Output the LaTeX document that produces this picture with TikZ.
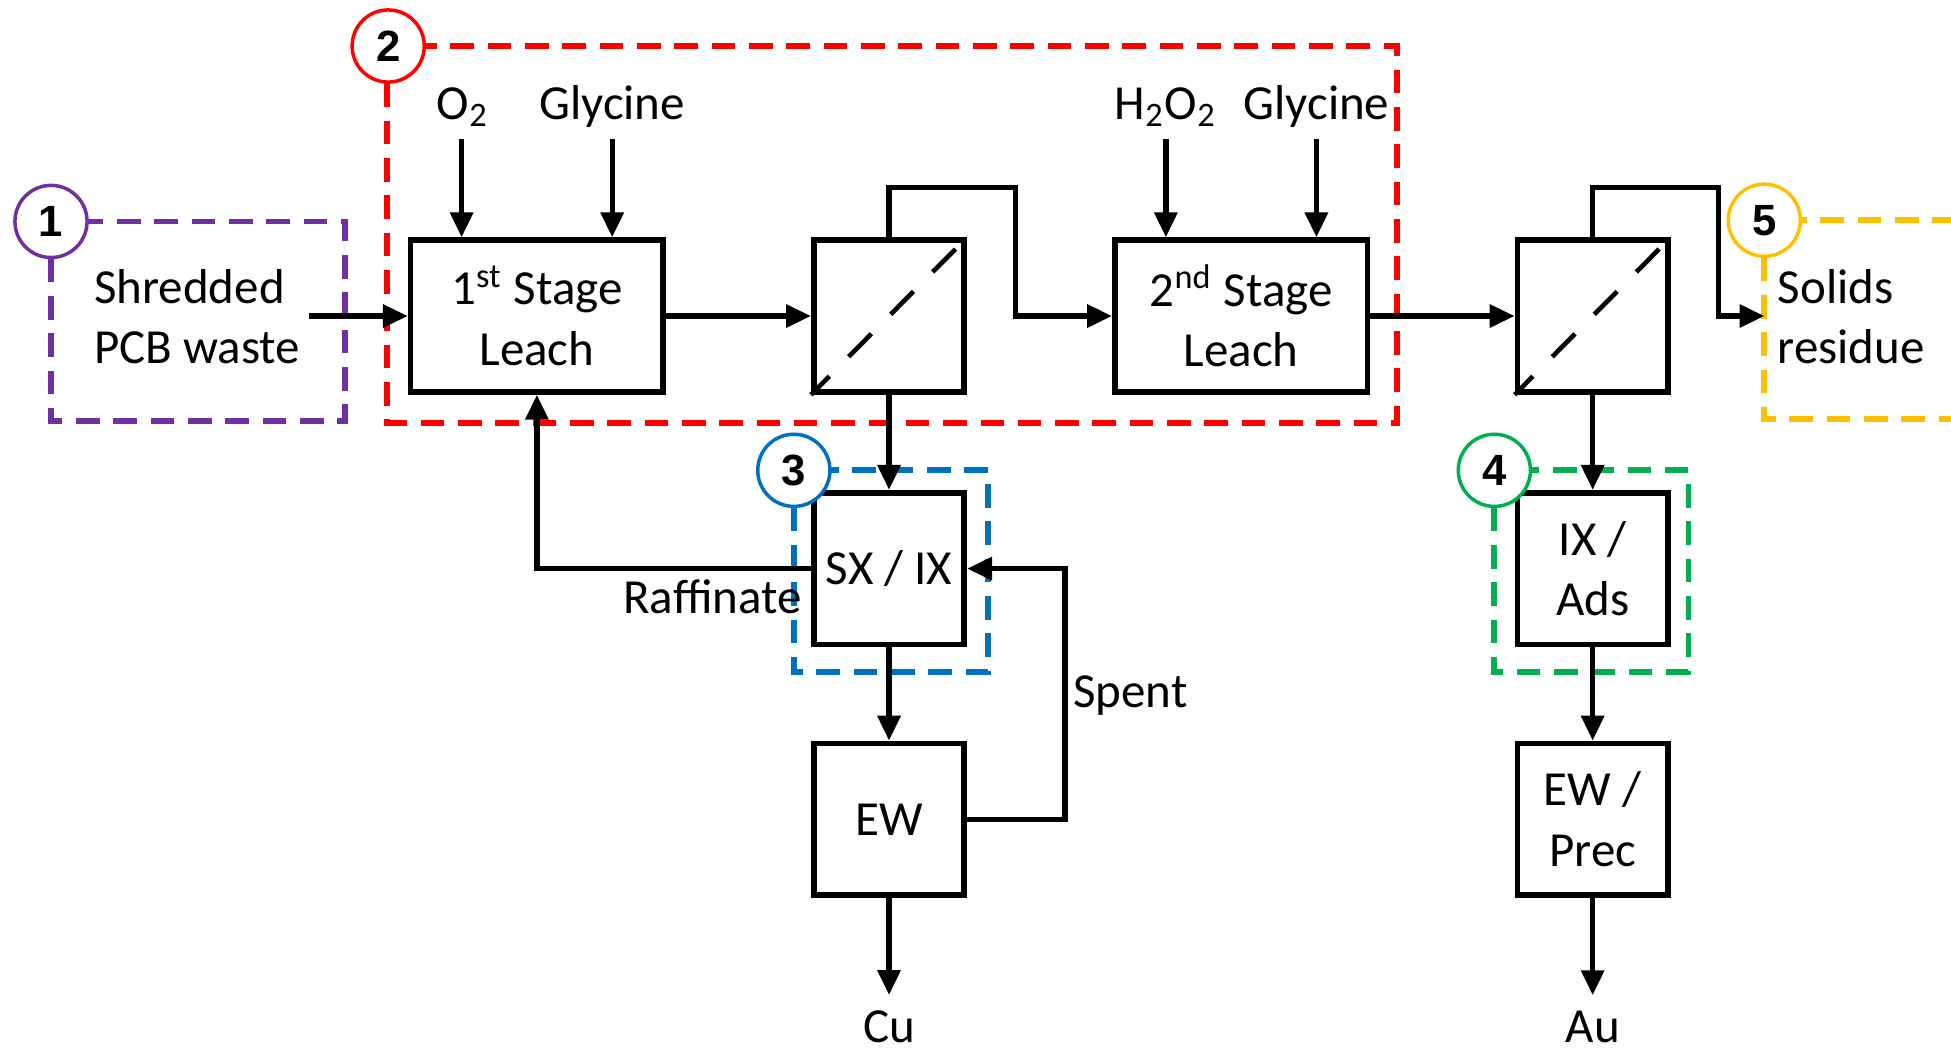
\documentclass[tikz,border=0pt]{standalone}
\usepackage{fontspec}
\setmainfont{Carlito}
\newfontfamily\numfont{Liberation Sans}
\usetikzlibrary{arrows.meta}
\definecolor{cpurple}{HTML}{7030A0}
\definecolor{cred}{HTML}{FF0000}
\definecolor{cblue}{HTML}{0070C0}
\definecolor{cgreen}{HTML}{00B050}
\definecolor{cyellow}{HTML}{FFC000}
\newcommand\lblfont{\fontsize{11.2}{13.9}\selectfont}
\begin{document}
\begin{tikzpicture}[x=1cm,y=-1cm,
  font=\lblfont,
  unitbox/.style={draw, line width=1.3pt, minimum width=#1, minimum height=1.22cm, inner sep=0pt, align=center},
  filterbox/.style={draw, line width=1.3pt, minimum width=1.21cm, minimum height=1.22cm, inner sep=0pt},
  arr/.style={line width=1.2pt, -{Triangle[length=0.2cm,width=0.18cm]}},
  diag/.style={line width=1.05pt, dash pattern=on 0.26cm off 0.22cm, dash phase=0.05cm},
  grp/.style={line width=1.35pt, dash pattern=on 0.19cm off 0.11cm},
  badge/.style={circle, fill=white, line width=0.8pt, minimum size=0.58cm, inner sep=0pt, text=black, font=\numfont\bfseries\fontsize{10}{12}\selectfont},
  lbl/.style={inner sep=0pt}
]
\useasboundingbox (0,0) rectangle (15.68,8.44);
\clip (0,0) rectangle (15.68,8.44);
\fill[white] (0,0) rectangle (15.68,8.44);

% group frames
\draw[grp, draw=cpurple] (0.41,1.78) rectangle (2.77,3.38);
\draw[grp, draw=cred] (3.11,0.37) rectangle (11.23,3.40);
\draw[grp, draw=cblue] (6.38,3.78) rectangle (7.94,5.40);
\draw[grp, draw=cgreen] (12.01,3.78) rectangle (13.57,5.40);
\draw[grp, draw=cyellow] (14.18,1.77) rectangle (16.20,3.37);

% process units
\node[unitbox=2.03cm] (leach1) at (4.315,2.54) {1\textsuperscript{st} Stage\\Leach};
\node[filterbox] (filter1) at (7.145,2.54) {};
\node[unitbox=2.03cm] (leach2) at (9.975,2.54) {2\textsuperscript{nd} Stage\\Leach};
\node[filterbox] (filter2) at (12.80,2.54) {};
\node[unitbox=1.21cm] (sx) at (7.145,4.57) {SX / IX};
\node[unitbox=1.21cm] (ew) at (7.145,6.585) {EW};
\node[unitbox=1.21cm] (ixads) at (12.80,4.57) {IX /\\Ads};
\node[unitbox=1.21cm] (ewprec) at (12.80,6.585) {EW /\\Prec};

\draw[diag] (filter1.south west) -- (filter1.north east);
\draw[diag] (filter2.south west) -- (filter2.north east);

% texts
\node[lbl, anchor=west, align=left] (feed) at (0.75,2.545) {Shredded\\PCB waste};
\node[lbl, anchor=west, align=left] (solids) at (14.28,2.545) {Solids\\residue};
\node[lbl, anchor=base] (o2) at (3.72,0.96) {O\textsubscript{2}};
\node[lbl, anchor=base] (gly1) at (4.92,0.96) {Glycine};
\node[lbl, anchor=base] (h2o2) at (9.37,0.96) {H\textsubscript{2}O\textsubscript{2}};
\node[lbl, anchor=base] (gly2) at (10.58,0.96) {Glycine};
\node[lbl, anchor=base] (raff) at (5.725,4.93) {Raffinate};
\node[lbl, anchor=base] (spent) at (9.085,5.69) {Spent};
\node (cu) at (7.145,8.25) {Cu};
\node (au) at (12.80,8.25) {Au};

% connector ends
\coordinate (o2s) at (3.71,1.12);
\coordinate (gly1s) at (4.92,1.12);
\coordinate (h2o2s) at (9.37,1.12);
\coordinate (gly2s) at (10.58,1.12);
\coordinate (feedout) at (2.48,2.54);
\coordinate (k1) at (8.16,2.54);
\coordinate (k2) at (13.81,2.54);
\coordinate (solidin) at (14.18,2.54);
\coordinate (sp) at (8.56,6.585);

% connectors
\draw[arr] (o2s) -- (o2s |- leach1.north);
\draw[arr] (gly1s) -- (gly1s |- leach1.north);
\draw[arr] (h2o2s) -- (h2o2s |- leach2.north);
\draw[arr] (gly2s) -- (gly2s |- leach2.north);
\draw[arr] (feedout) -- (leach1.west);
\draw[arr] (leach1) -- (filter1);
\draw[arr] (filter1.north) -- ++(0,-0.40) -| (k1) -- (leach2.west);
\draw[arr] (leach2) -- (filter2);
\draw[arr] (filter2.north) -- ++(0,-0.40) -| (k2) -- (solidin);
\draw[arr] (filter1) -- (sx);
\draw[arr] (sx) -- (ew);
\draw[arr] (ew) -- (cu);
\draw[arr] (sx.west) -| (leach1.south);
\draw[arr] (ew.east) -- (sp) |- (sx.east);
\draw[arr] (filter2) -- (ixads);
\draw[arr] (ixads) -- (ewprec);
\draw[arr] (ewprec) -- (au);

% badges
\node[badge, draw=cpurple] (b1) at (0.41,1.78) {1};
\node[badge, draw=cred] (b2) at (3.12,0.37) {2};
\node[badge, draw=cblue] (b3) at (6.38,3.78) {3};
\node[badge, draw=cgreen] (b4) at (12.01,3.78) {4};
\node[badge, draw=cyellow] (b5) at (14.18,1.77) {5};
\end{tikzpicture}
\end{document}
